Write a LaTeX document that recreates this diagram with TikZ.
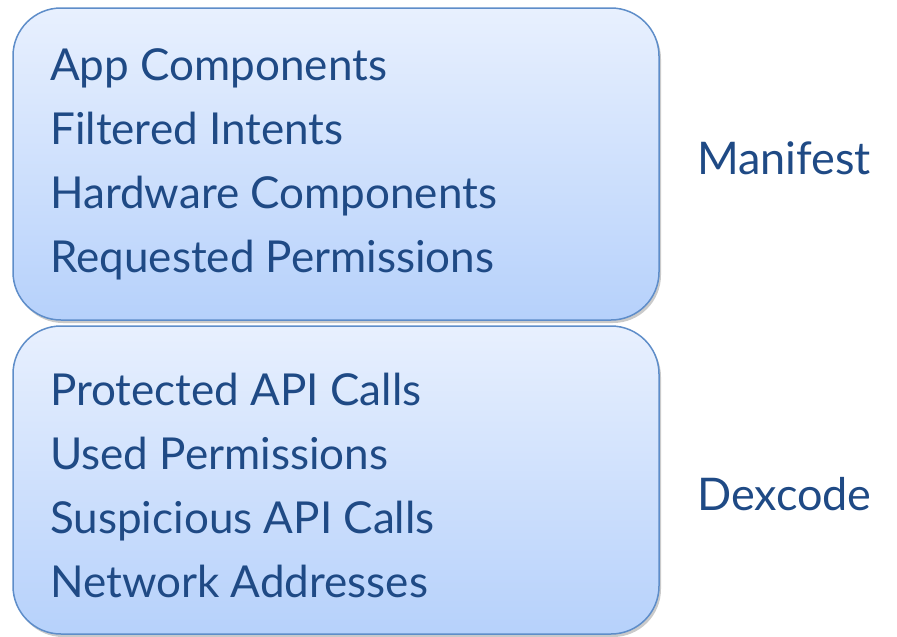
\documentclass[tikz,border=0pt]{standalone}
\usepackage{fontspec}
\setmainfont{Lato}
\usetikzlibrary{shadows}
\definecolor{txtblue}{HTML}{1F4A85}
\definecolor{boxtop}{HTML}{E8F0FE}
\definecolor{boxbot}{HTML}{B6D1FB}
\definecolor{boxline}{HTML}{5E8DC9}
\tikzset{
  panel/.style={draw=boxline, line width=1.5pt, rounded corners=48pt,
    top color=boxtop, bottom color=boxbot,
    drop shadow={shadow xshift=2pt, shadow yshift=-3pt, opacity=0.35, fill=black!60}},
  item/.style={anchor=base west, text=txtblue, inner sep=0pt, font=\fontsize{44}{44}\selectfont},
  side/.style={anchor=base west, text=txtblue, inner sep=0pt, font=\fontsize{45}{45}\selectfont}
}
\begin{document}
\begin{tikzpicture}[x=1pt,y=-1pt]
\useasboundingbox (0,0) rectangle (897,637);
\path[panel] (13,8) rectangle (659,320);
\path[panel] (13,326) rectangle (659,634);
\node[item] (a1) at (50,80) {App Components};
\node[item] (a2) at (50,144) {Filtered Intents};
\node[item] (a3) at (50,208) {Hardware Components};
\node[item] (a4) at (50,272) {Requested Permissions};
\node[item] (b1) at (50,405) {Protected API Calls};
\node[item] (b2) at (50,469) {Used Permissions};
\node[item] (b3) at (50,533) {Suspicious API Calls};
\node[item] (b4) at (50,597) {Network Addresses};
\node[side] (m) at (697,174) {Manifest};
\node[side] (d) at (697,510) {Dexcode};
\end{tikzpicture}
\end{document}
